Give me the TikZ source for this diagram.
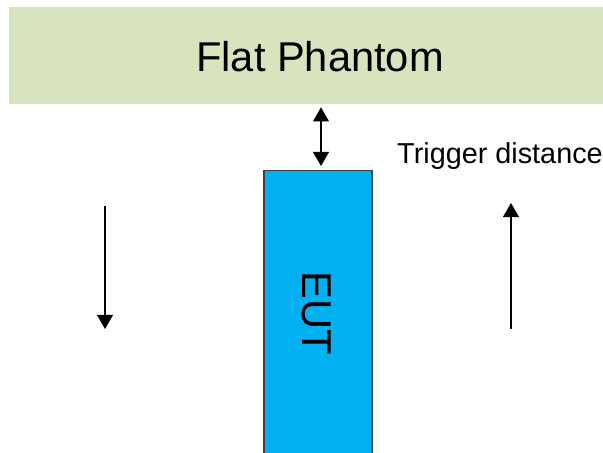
\documentclass[tikz,border=0pt]{standalone}
\usepackage{fontspec}
\setmainfont{Liberation Sans}
\usetikzlibrary{arrows.meta, positioning, calc}

\definecolor{phantomgreen}{RGB}{215,228,189}
\definecolor{eutblue}{RGB}{0,176,240}

\begin{document}
\begin{tikzpicture}[
      x=0.02cm, y=-0.02cm,
      block/.style={
        rectangle, inner sep=0pt, align=center
      },
      biglbl/.style={
        font=\fontsize{23.7}{28}\selectfont
      },
      arr/.style={
        -{Triangle[width=9pt, length=8pt]}, line width=0.85pt, draw=black
      },
      dblarr/.style={
        {Triangle[width=9pt, length=8pt]}-{Triangle[width=9pt, length=8pt]},
        line width=0.85pt, draw=black
      }
    ]

    % --- Canvas ---
    \clip (0,0) rectangle (603,453);

    % --- Phantom and device ---
    \node[block, fill=phantomgreen, minimum width=11.88cm, minimum height=1.94cm]
      (phantom) at (306,55.5) {};
    \node[biglbl] (phantomlbl) at (320,57) {Flat Phantom};

    \node[block, fill=eutblue, draw=black!75, line width=0.6pt,
          minimum width=2.16cm, minimum height=6.0cm, anchor=north]
      (eut) at (318,170) {};
    \node[biglbl, rotate=-90] (eutlbl) at (317,313) {EUT};

    % --- Trigger distance ---
    \draw[dblarr, shorten <=0.08cm, shorten >=0.06cm]
      ([xshift=0.06cm]eut.north) -- ([xshift=0.06cm]eut.north |- phantom.south);
    \node[font=\fontsize{16.4}{19}\selectfont] (trig) at (500,156) {Trigger distance};

    % --- Movement arrows ---
    \coordinate (downtop) at (105,206);
    \coordinate (downbot) at (105,329);
    \coordinate (uptop)   at (511,203);
    \coordinate (upbot)   at (511,329);
    \draw[arr] (downtop) -- (downbot);
    \draw[arr] (upbot) -- (uptop);

  \end{tikzpicture}
\end{document}
